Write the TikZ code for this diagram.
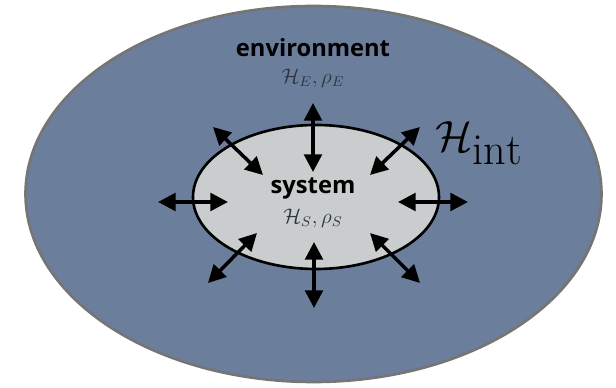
\documentclass[tikz,border=0pt]{standalone}
\usepackage{fontspec}
\usepackage{amsmath}
\usepackage{amssymb}
\usetikzlibrary{arrows.meta}
\newfontfamily\labelfont{Open Sans}

\definecolor{envblue}{HTML}{6B7E9B}
\definecolor{envrim}{HTML}{757575}
\definecolor{sysgray}{HTML}{C9CDCD}
\definecolor{symbgray}{HTML}{2E3440}

\begin{document}
\begin{tikzpicture}[x=0.02cm, y=-0.02cm,
  arr/.style={{Triangle[length=10pt,width=10pt]}-{Triangle[length=10pt,width=10pt]}, line width=2pt},
  title/.style={font=\labelfont\bfseries\fontsize{13.5}{15}\selectfont, text=black},
  symb/.style={font=\fontsize{12}{14}\selectfont, text=symbgray}]

\useasboundingbox (0,0) rectangle (616,388);

% environment and system
\draw[fill=envblue, draw=envrim, line width=1.5pt] (313.5,194) ellipse [x radius=288, y radius=188];
\draw[fill=sysgray, draw=black, line width=1.5pt] (316,197) ellipse [x radius=123, y radius=72];

\node[title] (env) at (313,48){environment};
\node[symb] (envsym) at (313,78){$\mathcal{H}_E,\rho_E$};

\node[title] (sys) at (313,188){system};
\node[symb] (syssym) at (313,218){$\mathcal{H}_S,\rho_S$};

\node[font=\fontsize{36}{40}\selectfont] (hint) at (479,143){$\mathcal{H}_{\mathrm{int}}$};

% arrow ends
\coordinate (t1) at (313,103); \coordinate (t2) at (313,172);
\coordinate (b1) at (314,242); \coordinate (b2) at (314,308);
\coordinate (l1) at (158,202); \coordinate (l2) at (228,202);
\coordinate (r1) at (398,202); \coordinate (r2) at (468,202);
\coordinate (tl1) at (213,127); \coordinate (tl2) at (263,175);
\coordinate (tr1) at (420,127); \coordinate (tr2) at (370,175);
\coordinate (bl1) at (257,233); \coordinate (bl2) at (208,283);
\coordinate (br1) at (370,233); \coordinate (br2) at (420,283);

\draw[arr](t1)--(t2);
\draw[arr](b1)--(b2);
\draw[arr](l1)--(l2);
\draw[arr](r1)--(r2);
\draw[arr](tl1)--(tl2);
\draw[arr](tr1)--(tr2);
\draw[arr](bl1)--(bl2);
\draw[arr](br1)--(br2);

\end{tikzpicture}
\end{document}
